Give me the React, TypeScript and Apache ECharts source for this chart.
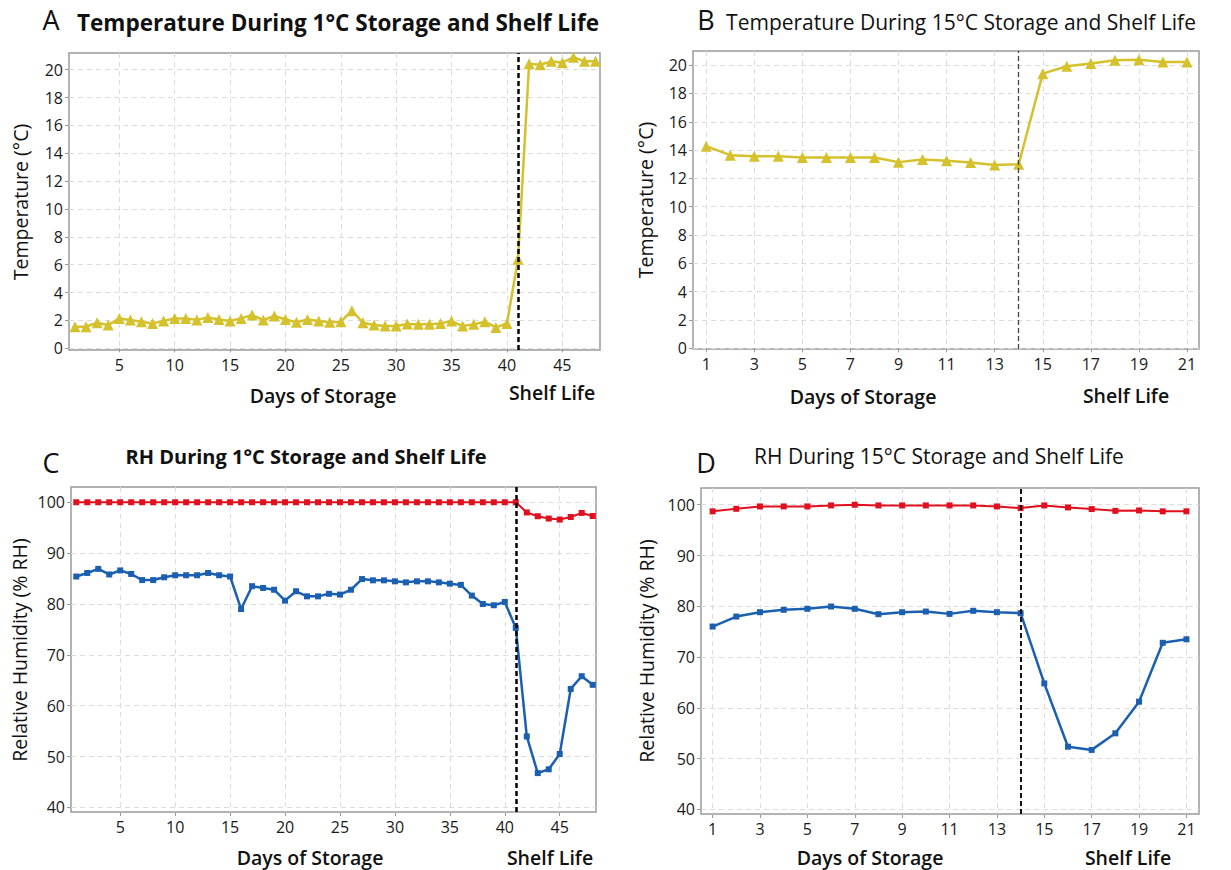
import React, { useEffect, useRef } from "react";
import * as echarts from "echarts";

// ---------- data ----------
const tempA: number[] = [
  1.55, 1.55, 1.84, 1.67, 2.15, 2.03, 1.91, 1.79, 1.96, 2.15,
  2.15, 2.03, 2.22, 2.07, 1.96, 2.15, 2.39, 2.03, 2.32, 2.07,
  1.87, 2.07, 1.96, 1.87, 1.91, 2.7, 1.84, 1.67, 1.6, 1.6,
  1.74, 1.72, 1.72, 1.79, 1.96, 1.6, 1.72, 1.91, 1.5, 1.79,
  6.4, 20.43, 20.36, 20.6, 20.5, 20.9, 20.6, 20.6,
];
const tempB: number[] = [
  14.28, 13.64, 13.57, 13.57, 13.48, 13.48, 13.48, 13.48, 13.15, 13.34,
  13.24, 13.12, 12.94, 13.0, 19.4, 19.92, 20.11, 20.35, 20.39, 20.23, 20.23,
];
const rhCRed: number[] = [
  100, 100, 100, 100, 100, 100, 100, 100, 100, 100,
  100, 100, 100, 100, 100, 100, 100, 100, 100, 100,
  100, 100, 100, 100, 100, 100, 100, 100, 100, 100,
  100, 100, 100, 100, 100, 100, 100, 100, 100, 100,
  100, 98.0, 97.25, 96.8, 96.6, 97.1, 97.9, 97.3,
];
const rhCBlue: number[] = [
  85.4, 86.1, 86.9, 85.8, 86.6, 85.9, 84.7, 84.7, 85.25, 85.65,
  85.65, 85.65, 86.1, 85.65, 85.4, 79.0, 83.5, 83.15, 82.8, 80.65,
  82.5, 81.5, 81.5, 82.0, 81.85, 82.8, 84.9, 84.65, 84.65, 84.45,
  84.25, 84.45, 84.45, 84.25, 84.0, 83.75, 81.65, 80.0, 79.75, 80.4,
  75.3, 53.95, 46.75, 47.5, 50.5, 63.3, 65.8, 64.1,
];
const rhDRed: number[] = [
  98.7, 99.2, 99.67, 99.67, 99.67, 99.87, 100, 99.87, 99.87, 99.87,
  99.87, 99.87, 99.67, 99.34, 99.87, 99.47, 99.15, 98.8, 98.87, 98.7, 98.7,
];
const rhDBlue: number[] = [
  76.0, 77.97, 78.83, 79.3, 79.5, 79.95, 79.5, 78.44, 78.83, 78.96,
  78.5, 79.1, 78.83, 78.63, 64.8, 52.33, 51.7, 54.97, 61.2, 72.8, 73.5,
];
const xTicks48: number[] = [5, 10, 15, 20, 25, 30, 35, 40, 45];
const xTicks21: number[] = [1, 3, 5, 7, 9, 11, 13, 15, 17, 19, 21];
const yTicksTemp: number[] = [0, 2, 4, 6, 8, 10, 12, 14, 16, 18, 20];
const yTicksRH: number[] = [40, 50, 60, 70, 80, 90, 100];
const shelfStart1 = 41;
const shelfStart15 = 14;

const titles = [
  "Temperature During 1°C Storage and Shelf Life",
  "Temperature During 15°C Storage and Shelf Life",
  "RH During 1°C Storage and Shelf Life",
  "RH During 15°C Storage and Shelf Life",
];
const yNames = [
  "Temperature (°C)",
  "Temperature (°C)",
  "Relative Humidity (% RH)",
  "Relative Humidity (% RH)",
];
const panelLetters = ["A", "B", "C", "D"];
const storageLabel = "Days of Storage";
const shelfLabel = "Shelf Life";

const FONT = "'Open Sans', 'Noto Sans', sans-serif";
const YELLOW = "#d4c12c";
const RED = "#e0101e";
const BLUE = "#1b5fb0";

const toPairs = (arr: number[]) => arr.map((v, i) => [i + 1, v]);

export default function App() {
  const ref = useRef<HTMLDivElement>(null);
  useEffect(() => {
    if (!ref.current) return;
    const chart = echarts.init(ref.current, null, { renderer: "svg" });

    const grids = [
      { left: 69, top: 53, width: 531, height: 297 },
      { left: 693, top: 51, width: 506, height: 298 },
      { left: 71, top: 487, width: 525, height: 325 },
      { left: 701, top: 488, width: 498, height: 326 },
    ].map((g) => ({
      ...g,
      show: true,
      borderColor: "#9b9b9b",
      borderWidth: 1.5,
      backgroundColor: "#fff",
      containLabel: false,
    }));

    const xRanges = [
      [0.46, 48.4],
      [0.45, 21.5],
      [0.52, 48.3],
      [0.51, 21.53],
    ];
    const yRanges = [
      [-0.12, 21.2],
      [-0.05, 21.0],
      [39.1, 103],
      [39.07, 103.3],
    ];
    const xTickSets = [xTicks48, xTicks21, xTicks48, xTicks21];
    const yTickSets = [yTicksTemp, yTicksTemp, yTicksRH, yTicksRH];

    const labelStyle = { color: "#1a1a1a", fontSize: 16, fontFamily: FONT };
    const splitLine = {
      show: true,
      lineStyle: { color: "#dcdcdc", type: [5, 4] as any, width: 1 },
    };

    const xAxis = grids.map((_, i) => ({
      type: "value" as const,
      gridIndex: i,
      min: xRanges[i][0],
      max: xRanges[i][1],
      axisLine: { show: false },
      axisTick: {
        show: true,
        inside: false,
        length: 4,
        customValues: xTickSets[i],
        lineStyle: { color: "#9b9b9b" },
      },
      axisLabel: { ...labelStyle, margin: 7, customValues: xTickSets[i] },
      splitLine,
    }));
    const yAxis = grids.map((_, i) => ({
      type: "value" as const,
      gridIndex: i,
      min: yRanges[i][0],
      max: yRanges[i][1],
      axisLine: { show: false },
      axisTick: {
        show: true,
        inside: false,
        length: 4,
        customValues: yTickSets[i],
        lineStyle: { color: "#9b9b9b" },
      },
      axisLabel: { ...labelStyle, margin: 6, customValues: yTickSets[i] },
      splitLine,
    }));

    const vline = (x: number, width: number, color: string, dash: number[]) => ({
      silent: true,
      symbol: ["none", "none"],
      label: { show: false },
      lineStyle: { color, width, type: dash as any },
      data: [{ xAxis: x }],
    });

    const series: any[] = [
      {
        type: "line",
        xAxisIndex: 0,
        yAxisIndex: 0,
        data: toPairs(tempA),
        symbol: "triangle",
        symbolSize: 11,
        itemStyle: { color: YELLOW },
        lineStyle: { color: YELLOW, width: 2.5 },
        markLine: vline(shelfStart1, 2.5, "#000", [5, 3]),
        z: 3,
      },
      {
        type: "line",
        xAxisIndex: 1,
        yAxisIndex: 1,
        data: toPairs(tempB),
        symbol: "triangle",
        symbolSize: 11,
        itemStyle: { color: YELLOW },
        lineStyle: { color: YELLOW, width: 2.5 },
        markLine: vline(shelfStart15, 1.3, "#444", [5, 3]),
        z: 3,
      },
      {
        type: "line",
        xAxisIndex: 2,
        yAxisIndex: 2,
        data: toPairs(rhCRed),
        symbol: "rect",
        symbolSize: 6,
        itemStyle: { color: RED },
        lineStyle: { color: RED, width: 2 },
        markLine: vline(shelfStart1, 2.5, "#000", [5, 3]),
        z: 3,
      },
      {
        type: "line",
        xAxisIndex: 2,
        yAxisIndex: 2,
        data: toPairs(rhCBlue),
        symbol: "rect",
        symbolSize: 6,
        itemStyle: { color: BLUE },
        lineStyle: { color: BLUE, width: 2.5 },
        z: 3,
      },
      {
        type: "line",
        xAxisIndex: 3,
        yAxisIndex: 3,
        data: toPairs(rhDRed),
        symbol: "rect",
        symbolSize: 6,
        itemStyle: { color: RED },
        lineStyle: { color: RED, width: 2 },
        markLine: vline(shelfStart15, 2, "#111", [5, 3]),
        z: 3,
      },
      {
        type: "line",
        xAxisIndex: 3,
        yAxisIndex: 3,
        data: toPairs(rhDBlue),
        symbol: "rect",
        symbolSize: 6,
        itemStyle: { color: BLUE },
        lineStyle: { color: BLUE, width: 2.5 },
        z: 3,
      },
    ];

    const txt = (
      x: number,
      y: number,
      text: string,
      size: number,
      weight: any,
      rotation = 0
    ) => ({
      type: "text",
      x,
      y,
      rotation,
      style: {
        text,
        fill: "#111",
        font: `${weight} ${size}px ${FONT}`,
        align: "center",
        verticalAlign: "middle",
      },
    });

    const R = Math.PI / 2;
    const graphic: any[] = [
      txt(51, 19, panelLetters[0], 27, "normal"),
      txt(706, 19, panelLetters[1], 27, "normal"),
      txt(51, 462, panelLetters[2], 27, "normal"),
      txt(706, 462, panelLetters[3], 27, "normal"),
      txt(338, 22, titles[0], 22.5, "bold"),
      txt(961, 22, titles[1], 21, 500),
      txt(306, 456, titles[2], 20, "bold"),
      txt(939, 456, titles[3], 21, 500),
      txt(20, 202, yNames[0], 19.5, "normal", R),
      txt(645, 200, yNames[1], 19.5, "normal", R),
      txt(19, 650, yNames[2], 19.5, "normal", R),
      txt(646, 651, yNames[3], 19.5, "normal", R),
      txt(323, 395, storageLabel, 19.5, 600),
      txt(552, 392, shelfLabel, 19.5, 600),
      txt(863, 396, storageLabel, 19.5, 600),
      txt(1126, 395, shelfLabel, 19.5, 600),
      txt(310, 857, storageLabel, 19.5, 600),
      txt(550, 857, shelfLabel, 19.5, 600),
      txt(870, 857, storageLabel, 19.5, 600),
      txt(1128, 857, shelfLabel, 19.5, 600),
    ];

    chart.setOption({
      animation: false,
      backgroundColor: "#fff",
      textStyle: { fontFamily: FONT },
      grid: grids,
      xAxis,
      yAxis,
      series,
      graphic,
    });
    return () => chart.dispose();
  }, []);
  return (
    <div
      ref={ref}
      style={{ position: "fixed", left: 0, top: 0, width: 1231, height: 870 }}
    />
  );
}
